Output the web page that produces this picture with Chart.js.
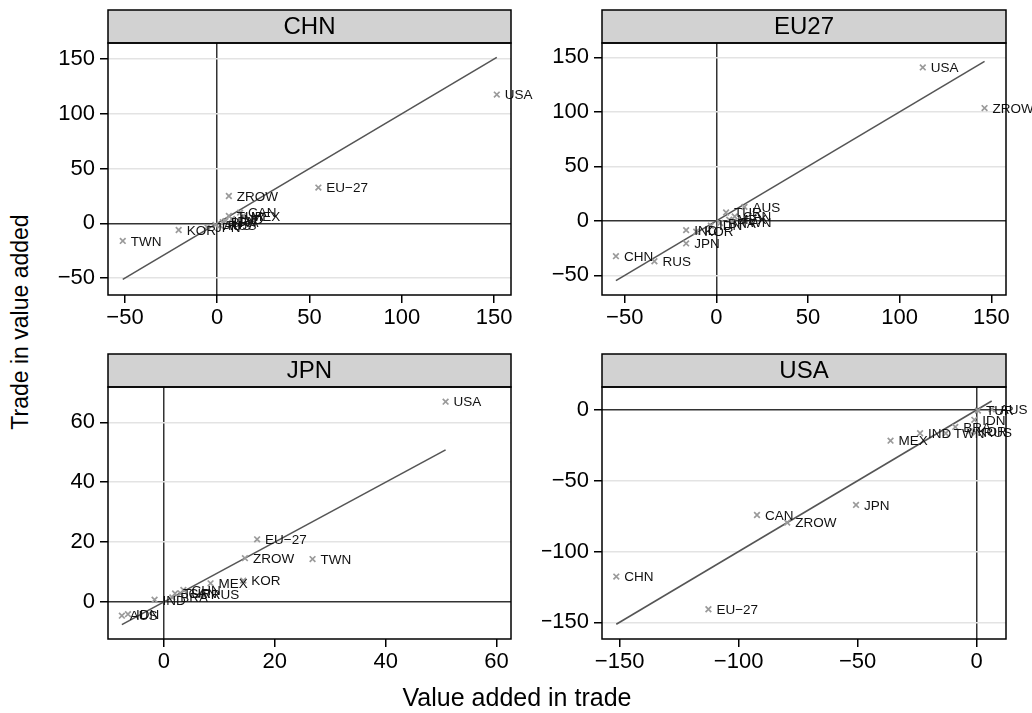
<!DOCTYPE html>
<html lang="en">
<head>
  <meta charset="UTF-8">
  <title>Trade in value added vs value added in trade</title>
  <script src="https://cdn.jsdelivr.net/npm/chart.js@4.4.1/dist/chart.umd.min.js"></script>
  <style>
    body { margin: 0; background: #fff; font-family: 'Liberation Sans', Arial, sans-serif; }
    #page { position: relative; width: 1032px; height: 713px; overflow: hidden; }
    canvas { position: absolute; }
    .ytitle { position: absolute; left: 20px; top: 322px; font-size: 23px; color: #000;
              transform: translate(-50%, -50%) rotate(-90deg); white-space: nowrap; }
    .xtitle { position: absolute; left: 517px; top: 697px; font-size: 25px; color: #000;
              transform: translate(-50%, -50%); white-space: nowrap; }
  </style>
</head>
<body>
<div id="page">
  <canvas id="chnChart" width="492" height="340" style="left:48px;top:0px"></canvas>
  <canvas id="euChart" width="490" height="340" style="left:542px;top:0px"></canvas>
  <canvas id="jpnChart" width="492" height="340" style="left:48px;top:344px"></canvas>
  <canvas id="usaChart" width="490" height="340" style="left:542px;top:344px"></canvas>
  <div class="ytitle">Trade in value added</div>
  <div class="xtitle">Value added in trade</div>
</div>

<script>
  // x = value added in trade, y = trade in value added
  const chnNames = ['USA', 'EU−27', 'ZROW', 'TWN', 'KOR', 'JPN', 'AUS', 'RUS', 'BRA', 'IDN', 'IND', 'TUR', 'CAN', 'MEX'];
  const chnX = [151.5, 54.8, 6.3, -51.2, -20.9, -5.5, -1.0, 1.5, 3.0, 4.5, 8.0, 6.3, 12.4, 14.0];
  const chnY = [117.5, 32.6, 24.9, -16.1, -6.1, -3.5, -1.5, -2.0, 1.0, 2.0, 4.0, 6.7, 9.7, 6.5];

  const euNames = ['USA', 'ZROW', 'CHN', 'RUS', 'JPN', 'IND', 'KOR', 'AUS', 'TUR', 'CAN', 'MEX', 'TWN', 'BRA', 'IDN'];
  const euX = [112.6, 146.3, -54.8, -33.8, -16.5, -16.5, -11.0, 15.3, 5.3, 10.0, 7.0, 9.0, 2.0, -3.0];
  const euY = [140.7, 103.4, -32.4, -37.0, -20.7, -8.5, -10.0, 12.8, 7.7, 4.0, 1.0, -1.0, -2.0, -4.5];

  const jpnNames = ['USA', 'EU−27', 'ZROW', 'TWN', 'KOR', 'MEX', 'CHN', 'RUS', 'CAN', 'TUR', 'BRA', 'IND', 'IDN', 'AUS'];
  const jpnX = [50.8, 16.8, 14.6, 26.8, 14.3, 8.4, 3.5, 7.0, 3.0, 2.0, 1.5, -1.7, -6.5, -7.6];
  const jpnY = [66.9, 20.9, 14.6, 14.3, 7.1, 6.2, 4.0, 2.5, 2.8, 2.8, 1.5, 0.7, -4.1, -4.6];

  const usaNames = ['CHN', 'EU−27', 'CAN', 'ZROW', 'JPN', 'MEX', 'IND', 'TWN', 'BRA', 'KOR', 'RUS', 'IDN', 'TUR', 'AUS'];
  const usaX = [-151.4, -112.7, -92.3, -79.6, -50.7, -36.2, -23.8, -13.0, -9.0, -3.0, -0.5, -1.0, 0.5, 6.3];
  const usaY = [-117.7, -140.8, -74.2, -79.6, -67.1, -21.7, -16.5, -16.5, -12.0, -15.0, -16.0, -7.0, -0.5, 0.5];

  const wideTicks = [-50, 0, 50, 100, 150];
  const jpnTicks = [0, 20, 40, 60];
  const usaTicks = [-150, -100, -50, 0];

  Chart.defaults.font.family = "'Liberation Sans', Arial, sans-serif";
  Chart.defaults.color = '#000';

  function fmt(v) {
    return String(v).replace('-', '\u2212');
  }

  function createPanel(id, title, names, xs, ys, xTicks, yTicks, xRange, yRange, padRight) {
    const points = xs.map((x, i) => ({ x: x, y: ys[i] }));
    const lo = Math.min(...xs);
    const hi = Math.max(...xs);

    const panelPlugin = {
      id: 'panel',
      afterDatasetsDraw(chart) {
        const ctx = chart.ctx;
        const meta = chart.getDatasetMeta(0);
        ctx.save();
        ctx.font = "13.5px 'Liberation Sans', Arial, sans-serif";
        ctx.fillStyle = '#111';
        ctx.textBaseline = 'middle';
        meta.data.forEach((pt, i) => {
          ctx.fillText(names[i], pt.x + 8, pt.y + 1);
        });
        ctx.restore();
      },
      afterDraw(chart) {
        const ctx = chart.ctx;
        const a = chart.chartArea;
        ctx.save();
        // header strip
        ctx.fillStyle = '#d2d2d2';
        ctx.fillRect(a.left, 10, a.right - a.left, a.top - 10);
        ctx.strokeStyle = '#000';
        ctx.lineWidth = 1.5;
        ctx.strokeRect(a.left, 10, a.right - a.left, a.top - 10);
        ctx.fillStyle = '#000';
        ctx.font = "24px 'Liberation Sans', Arial, sans-serif";
        ctx.textAlign = 'center';
        ctx.textBaseline = 'middle';
        ctx.fillText(title, (a.left + a.right) / 2, (10 + a.top) / 2 + 1);
        // plot frame
        ctx.strokeRect(a.left, a.top, a.right - a.left, a.bottom - a.top);
        ctx.restore();
      }
    };

    new Chart(document.getElementById(id), {
      type: 'scatter',
      data: {
        datasets: [{
          data: points,
          pointStyle: 'crossRot',
          pointRadius: 4,
          pointBorderWidth: 1.7,
          borderColor: '#9a9a9a',
          backgroundColor: '#9a9a9a'
        }, {
          type: 'line',
          data: [{ x: lo, y: lo }, { x: hi, y: hi }],
          borderColor: '#555',
          borderWidth: 1.6,
          pointRadius: 0,
          fill: false
        }]
      },
      options: {
        responsive: false,
        animation: false,
        layout: { padding: { top: 43, right: padRight, left: 0, bottom: 0 } },
        plugins: {
          legend: { display: false },
          tooltip: { enabled: false }
        },
        scales: {
          x: {
            type: 'linear',
            min: xRange[0],
            max: xRange[1],
            afterBuildTicks: s => { s.ticks = xTicks.map(v => ({ value: v })); },
            afterFit: s => { s.height = 45; s.paddingLeft = 0; s.paddingRight = 0; },
            ticks: { font: { size: 22 }, padding: 2, maxRotation: 0, callback: v => fmt(v) },
            grid: {
              color: c => (c.tick && c.tick.value === 0) ? '#333' : 'rgba(0,0,0,0)',
              lineWidth: 1.5,
              tickColor: '#000',
              tickLength: 8
            },
            border: { display: false }
          },
          y: {
            type: 'linear',
            min: yRange[0],
            max: yRange[1],
            afterBuildTicks: s => { s.ticks = yTicks.map(v => ({ value: v })); },
            afterFit: s => { s.width = 60; s.paddingTop = 0; s.paddingBottom = 0; },
            ticks: { font: { size: 22 }, padding: 5, callback: v => fmt(v) },
            grid: {
              color: c => (c.tick && c.tick.value === 0) ? '#333' : '#e3e3e3',
              lineWidth: 1.5,
              tickColor: '#000',
              tickLength: 8
            },
            border: { display: false }
          }
        }
      },
      plugins: [panelPlugin]
    });
  }

  createPanel('chnChart', 'CHN', chnNames, chnX, chnY, wideTicks, wideTicks, [-59.2, 159.2], [-65.5, 164.6], 29);
  createPanel('euChart', 'EU27', euNames, euX, euY, wideTicks, wideTicks, [-62.4, 158], [-68, 163.1], 26);
  createPanel('jpnChart', 'JPN', jpnNames, jpnX, jpnY, jpnTicks, jpnTicks, [-10.1, 62.6], [-12.4, 71.8], 29);
  createPanel('usaChart', 'USA', usaNames, usaX, usaY, usaTicks, usaTicks, [-157.4, 12.3], [-161.8, 16.2], 26);
</script>
</body>
</html>
